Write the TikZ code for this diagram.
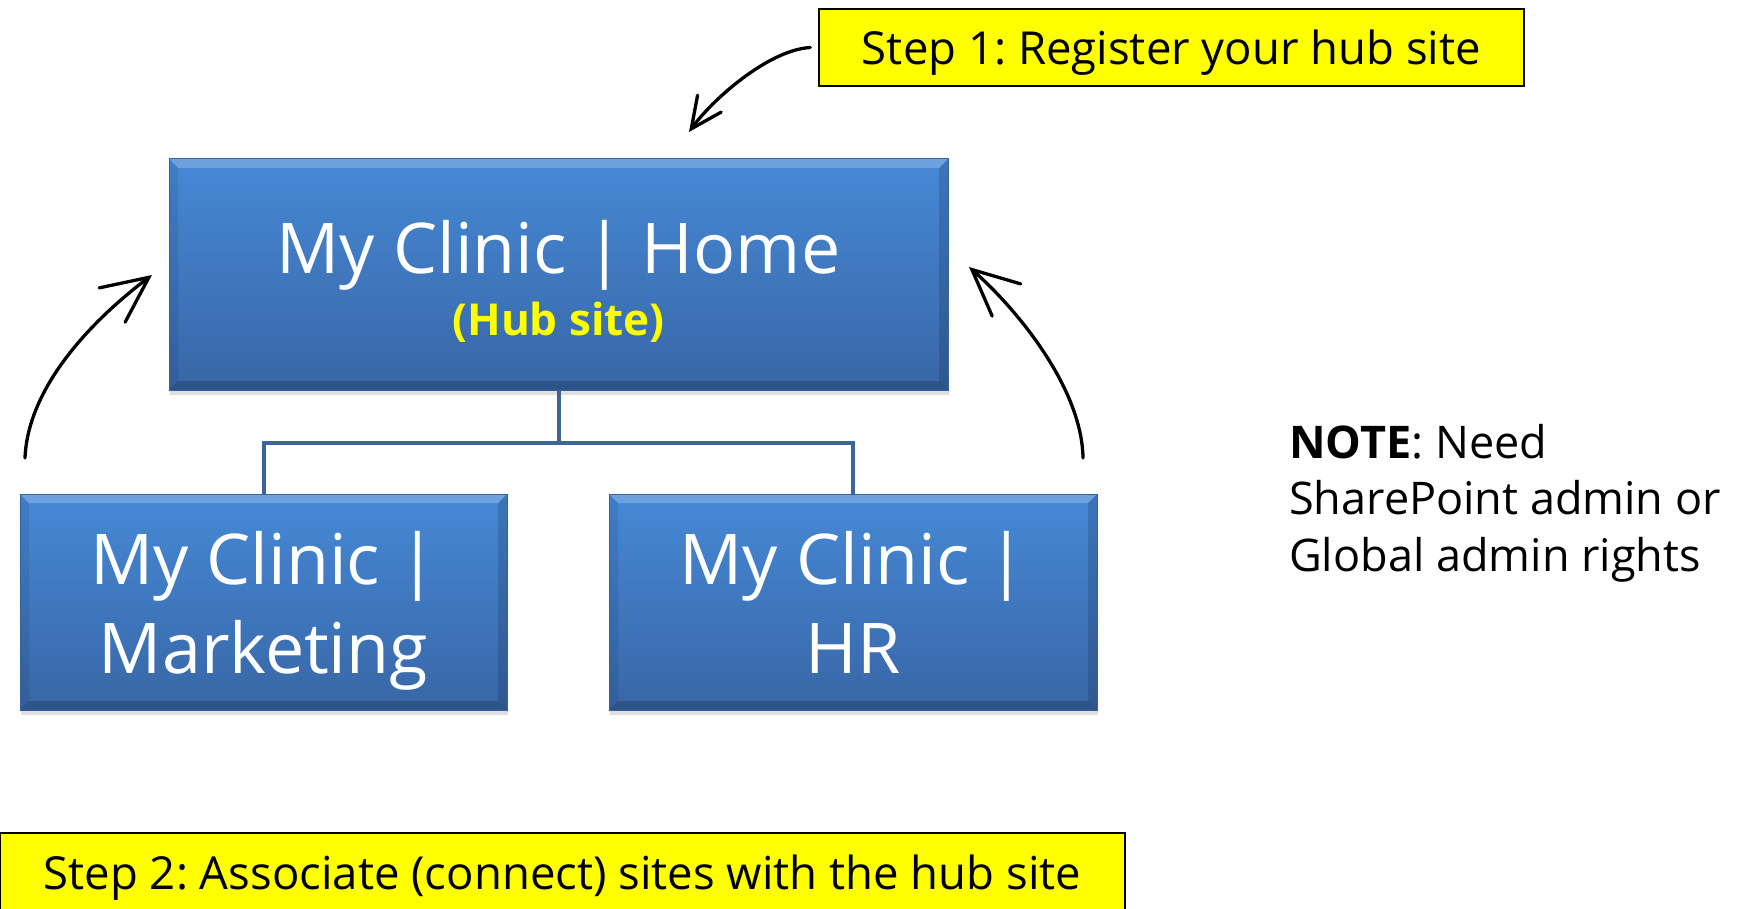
\documentclass[tikz,border=0pt]{standalone}
\usepackage{fontspec}
\setmainfont{Open Sans}
\usetikzlibrary{arrows.meta,shadows,calc}
\definecolor{boxtop}{HTML}{4689D6}
\definecolor{boxbot}{HTML}{3866A6}
\definecolor{boxedge}{HTML}{35619C}
\definecolor{conncol}{HTML}{3D6599}
\definecolor{stepyellow}{HTML}{FFFF00}
\frenchspacing
\begin{document}
\begin{tikzpicture}[x=1pt,y=-1pt,
  sitebox/.style={rectangle, draw=boxedge, line width=1pt, top color=boxtop, bottom color=boxbot,
    text=white, align=center, inner sep=0pt,
    drop shadow={opacity=0.25, shadow xshift=1pt, shadow yshift=-5pt},
    path picture={
      \fill[white,opacity=0.22] (path picture bounding box.north west) -- (path picture bounding box.north east)
        -- ([shift={(-9pt,-9pt)}]path picture bounding box.north east) -- ([shift={(9pt,-9pt)}]path picture bounding box.north west) -- cycle;
      \fill[black,opacity=0.18] (path picture bounding box.south west) -- (path picture bounding box.south east)
        -- ([shift={(-9pt,9pt)}]path picture bounding box.south east) -- ([shift={(9pt,9pt)}]path picture bounding box.south west) -- cycle;
      \fill[black,opacity=0.08] (path picture bounding box.north west) -- (path picture bounding box.south west)
        -- ([shift={(9pt,9pt)}]path picture bounding box.south west) -- ([shift={(9pt,-9pt)}]path picture bounding box.north west) -- cycle;
      \fill[black,opacity=0.14] (path picture bounding box.north east) -- (path picture bounding box.south east)
        -- ([shift={(-9pt,9pt)}]path picture bounding box.south east) -- ([shift={(-9pt,-9pt)}]path picture bounding box.north east) -- cycle;
    }},
  stepbox/.style={rectangle, draw=black, line width=1.5pt, fill=stepyellow, inner sep=0pt,
    text height=35pt, text depth=0pt, font=\fontsize{45.5}{54}\selectfont},
  conn/.style={draw=conncol, line width=4pt},
  bigarrow/.style={line width=3.3pt, line cap=round, -{Straight Barb[length=46pt,width=43pt,line cap=round]}},
  smallarrow/.style={line width=3.3pt, line cap=round, -{Straight Barb[length=31pt,width=29pt,line cap=round]}}
]
\useasboundingbox (0,0) rectangle (1747,909);

% hub and child sites
\node[sitebox, minimum width=779pt, minimum height=231pt, font=\fontsize{70}{62}\selectfont] (hub) at (558.5,274.5)
  {\rule{0pt}{69pt}My Clinic | Home\\
   {\fontsize{44}{62}\selectfont\bfseries\color{stepyellow}(Hub site)}\rule[-10pt]{0pt}{10pt}};
\node[sitebox, minimum width=487pt, minimum height=216pt, font=\fontsize{70}{89}\selectfont] (mkt) at (263.5,602)
  {\rule{0pt}{73pt}My Clinic |\\ Marketing\rule[-20pt]{0pt}{20pt}};
\node[sitebox, minimum width=488pt, minimum height=216pt, font=\fontsize{70}{89}\selectfont] (hr) at (853,602)
  {\rule{0pt}{73pt}My Clinic |\\ HR\rule[-20pt]{0pt}{20pt}};

% connectors
\draw[conn] (hub.south) -- ++(0,52) -| (mkt.north);
\draw[conn] (hub.south) -- ++(0,52) -| (hr.north);

% step boxes
\node[stepbox, minimum width=705pt, minimum height=77pt] (step1) at (1171.5,47.5)
  {Step 1: Register your hub site};
\node[stepbox, minimum width=1125pt, minimum height=77pt] (step2) at (562.5,871.5)
  {Step 2: Associate (connect) sites with the hub site};

% note
\node[anchor=base west, align=left, inner sep=0pt, font=\fontsize{45}{56.5}\selectfont] (note) at (1289,571)
  {\textbf{NOTE}: Need\\ SharePoint admin or\\ Global admin rights};

% curved arrows
\coordinate (la0) at (25,458);
\coordinate (la1) at (152,275);
\coordinate (ra0) at (1083,458);
\coordinate (ra1) at (969,267);
\coordinate (ta0) at ([xshift=-8pt]step1.west);
\coordinate (ta1) at (689,132);
\draw[bigarrow] (la0) .. controls (28,385) and (95,318) .. (la1);
\draw[bigarrow] (ra0) .. controls (1082,390) and (1020,312) .. (ra1);
\draw[smallarrow] (ta0) .. controls (768,50) and (712,100) .. (ta1);
\end{tikzpicture}
\end{document}
